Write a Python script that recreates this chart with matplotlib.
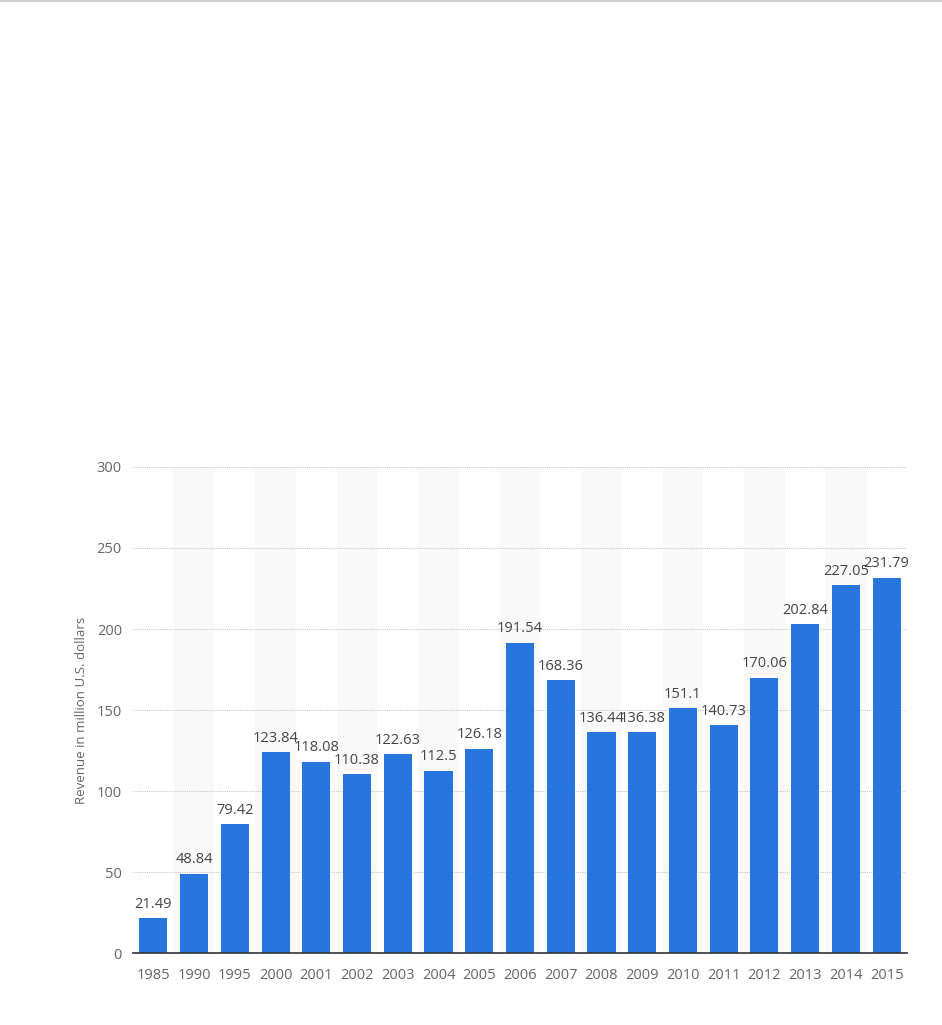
import matplotlib
matplotlib.use("Agg")
import matplotlib.pyplot as plt
from matplotlib.lines import Line2D

plt.rcParams['font.family'] = ['Open Sans', 'DejaVu Sans']

years = ["1985", "1990", "1995", "2000", "2001", "2002", "2003", "2004", "2005", "2006",
         "2007", "2008", "2009", "2010", "2011", "2012", "2013", "2014", "2015"]
revenue = [21.49, 48.84, 79.42, 123.84, 118.08, 110.38, 122.63, 112.5, 126.18, 191.54,
           168.36, 136.44, 136.38, 151.1, 140.73, 170.06, 202.84, 227.05, 231.79]
labels = ["21.49", "48.84", "79.42", "123.84", "118.08", "110.38", "122.63", "112.5", "126.18",
          "191.54", "168.36", "136.44", "136.38", "151.1", "140.73", "170.06", "202.84",
          "227.05", "231.79"]
yticks = [0, 50, 100, 150, 200, 250, 300]

fig = plt.figure(figsize=(9.42, 10.25), dpi=100)
ax = fig.add_axes([0.1412, 0.0702, 0.8216, 0.4742])

x = list(range(len(years)))
for i in x:
    if i % 2 == 1:
        ax.axvspan(i - 0.5, i + 0.5, color="#f9f9f9", zorder=0, lw=0)

ax.bar(x, revenue, width=0.69, color="#2876dd", zorder=3)
for i, (v, t) in enumerate(zip(revenue, labels)):
    ax.text(i, v + 4, t, ha="center", va="bottom", fontsize=10.5, color="#444444", zorder=4)

ax.set_xlim(-0.5, len(years) - 0.5)
ax.set_ylim(0, 300)
ax.set_yticks(yticks)
ax.set_xticks(x)
ax.set_xticklabels(years)
ax.tick_params(axis="both", length=0, labelsize=10.5, colors="#666666")
ax.tick_params(axis="x", pad=11)
ax.tick_params(axis="y", pad=8)
ax.yaxis.grid(True, linestyle=(0, (1, 1)), color="#c8c8c8", linewidth=0.8, zorder=1)
ax.set_axisbelow(True)
for s in ["top", "right", "left"]:
    ax.spines[s].set_visible(False)
ax.spines["bottom"].set_color("#333333")
ax.spines["bottom"].set_linewidth(1.2)
ax.spines["bottom"].set_zorder(5)

ax.set_ylabel("Revenue in million U.S. dollars", fontsize=9.5, color="#666666", labelpad=6)

fig.add_artist(Line2D([0, 1], [0.999, 0.999], color="#d0d0d0", linewidth=1.5, transform=fig.transFigure))

fig.savefig("out.png", dpi=100, facecolor="white")
